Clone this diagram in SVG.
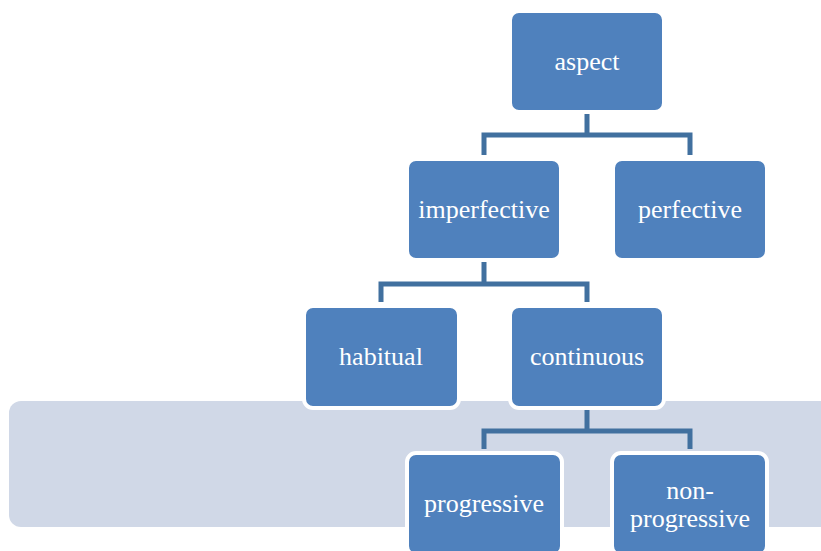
<svg xmlns="http://www.w3.org/2000/svg" width="821" height="551" viewBox="0 0 821 551">
<style>
.box{fill:#4F81BD;stroke:#FFFFFF;stroke-width:4}
.lbl{font-family:"Liberation Serif","Times New Roman",serif;font-size:26px;fill:#FFFFFF;text-anchor:middle}
.con{fill:none;stroke:#41709F;stroke-width:5;stroke-linejoin:miter}
</style>
<rect width="821" height="551" fill="#FFFFFF"/>
<rect id="band" x="9" y="401" width="830" height="126" rx="12" ry="12" fill="#D0D8E7"/>
<g id="connectors">
<path class="con" d="M587,111 V135 M484,155 V135 H690 V155"/>
<path class="con" d="M484,259 V284 M381,302 V284 H587 V302"/>
<path class="con" d="M587,407 V431 M484,449 V431 H690 V449"/>
</g>
<g id="aspect"><rect class="box" x="510" y="11" width="154" height="101" rx="9"/><text class="lbl" x="587" y="70">aspect</text></g>
<g id="imperfective"><rect class="box" x="407" y="159" width="154" height="101" rx="9"/><text class="lbl" x="484" y="218">imperfective</text></g>
<g id="perfective"><rect class="box" x="613" y="159" width="154" height="101" rx="9"/><text class="lbl" x="690" y="218">perfective</text></g>
<g id="habitual"><rect class="box" x="304" y="306" width="155" height="102" rx="9"/><text class="lbl" x="381" y="365">habitual</text></g>
<g id="continuous"><rect class="box" x="510" y="306" width="154" height="102" rx="9"/><text class="lbl" x="587" y="365">continuous</text></g>
<g id="progressive"><rect class="box" x="407" y="453" width="155" height="102" rx="9"/><text class="lbl" x="484" y="512">progressive</text></g>
<g id="non-progressive"><rect class="box" x="612" y="453" width="155" height="102" rx="9"/><text class="lbl" x="690" y="499">non-</text><text class="lbl" x="690" y="527">progressive</text></g>
</svg>
